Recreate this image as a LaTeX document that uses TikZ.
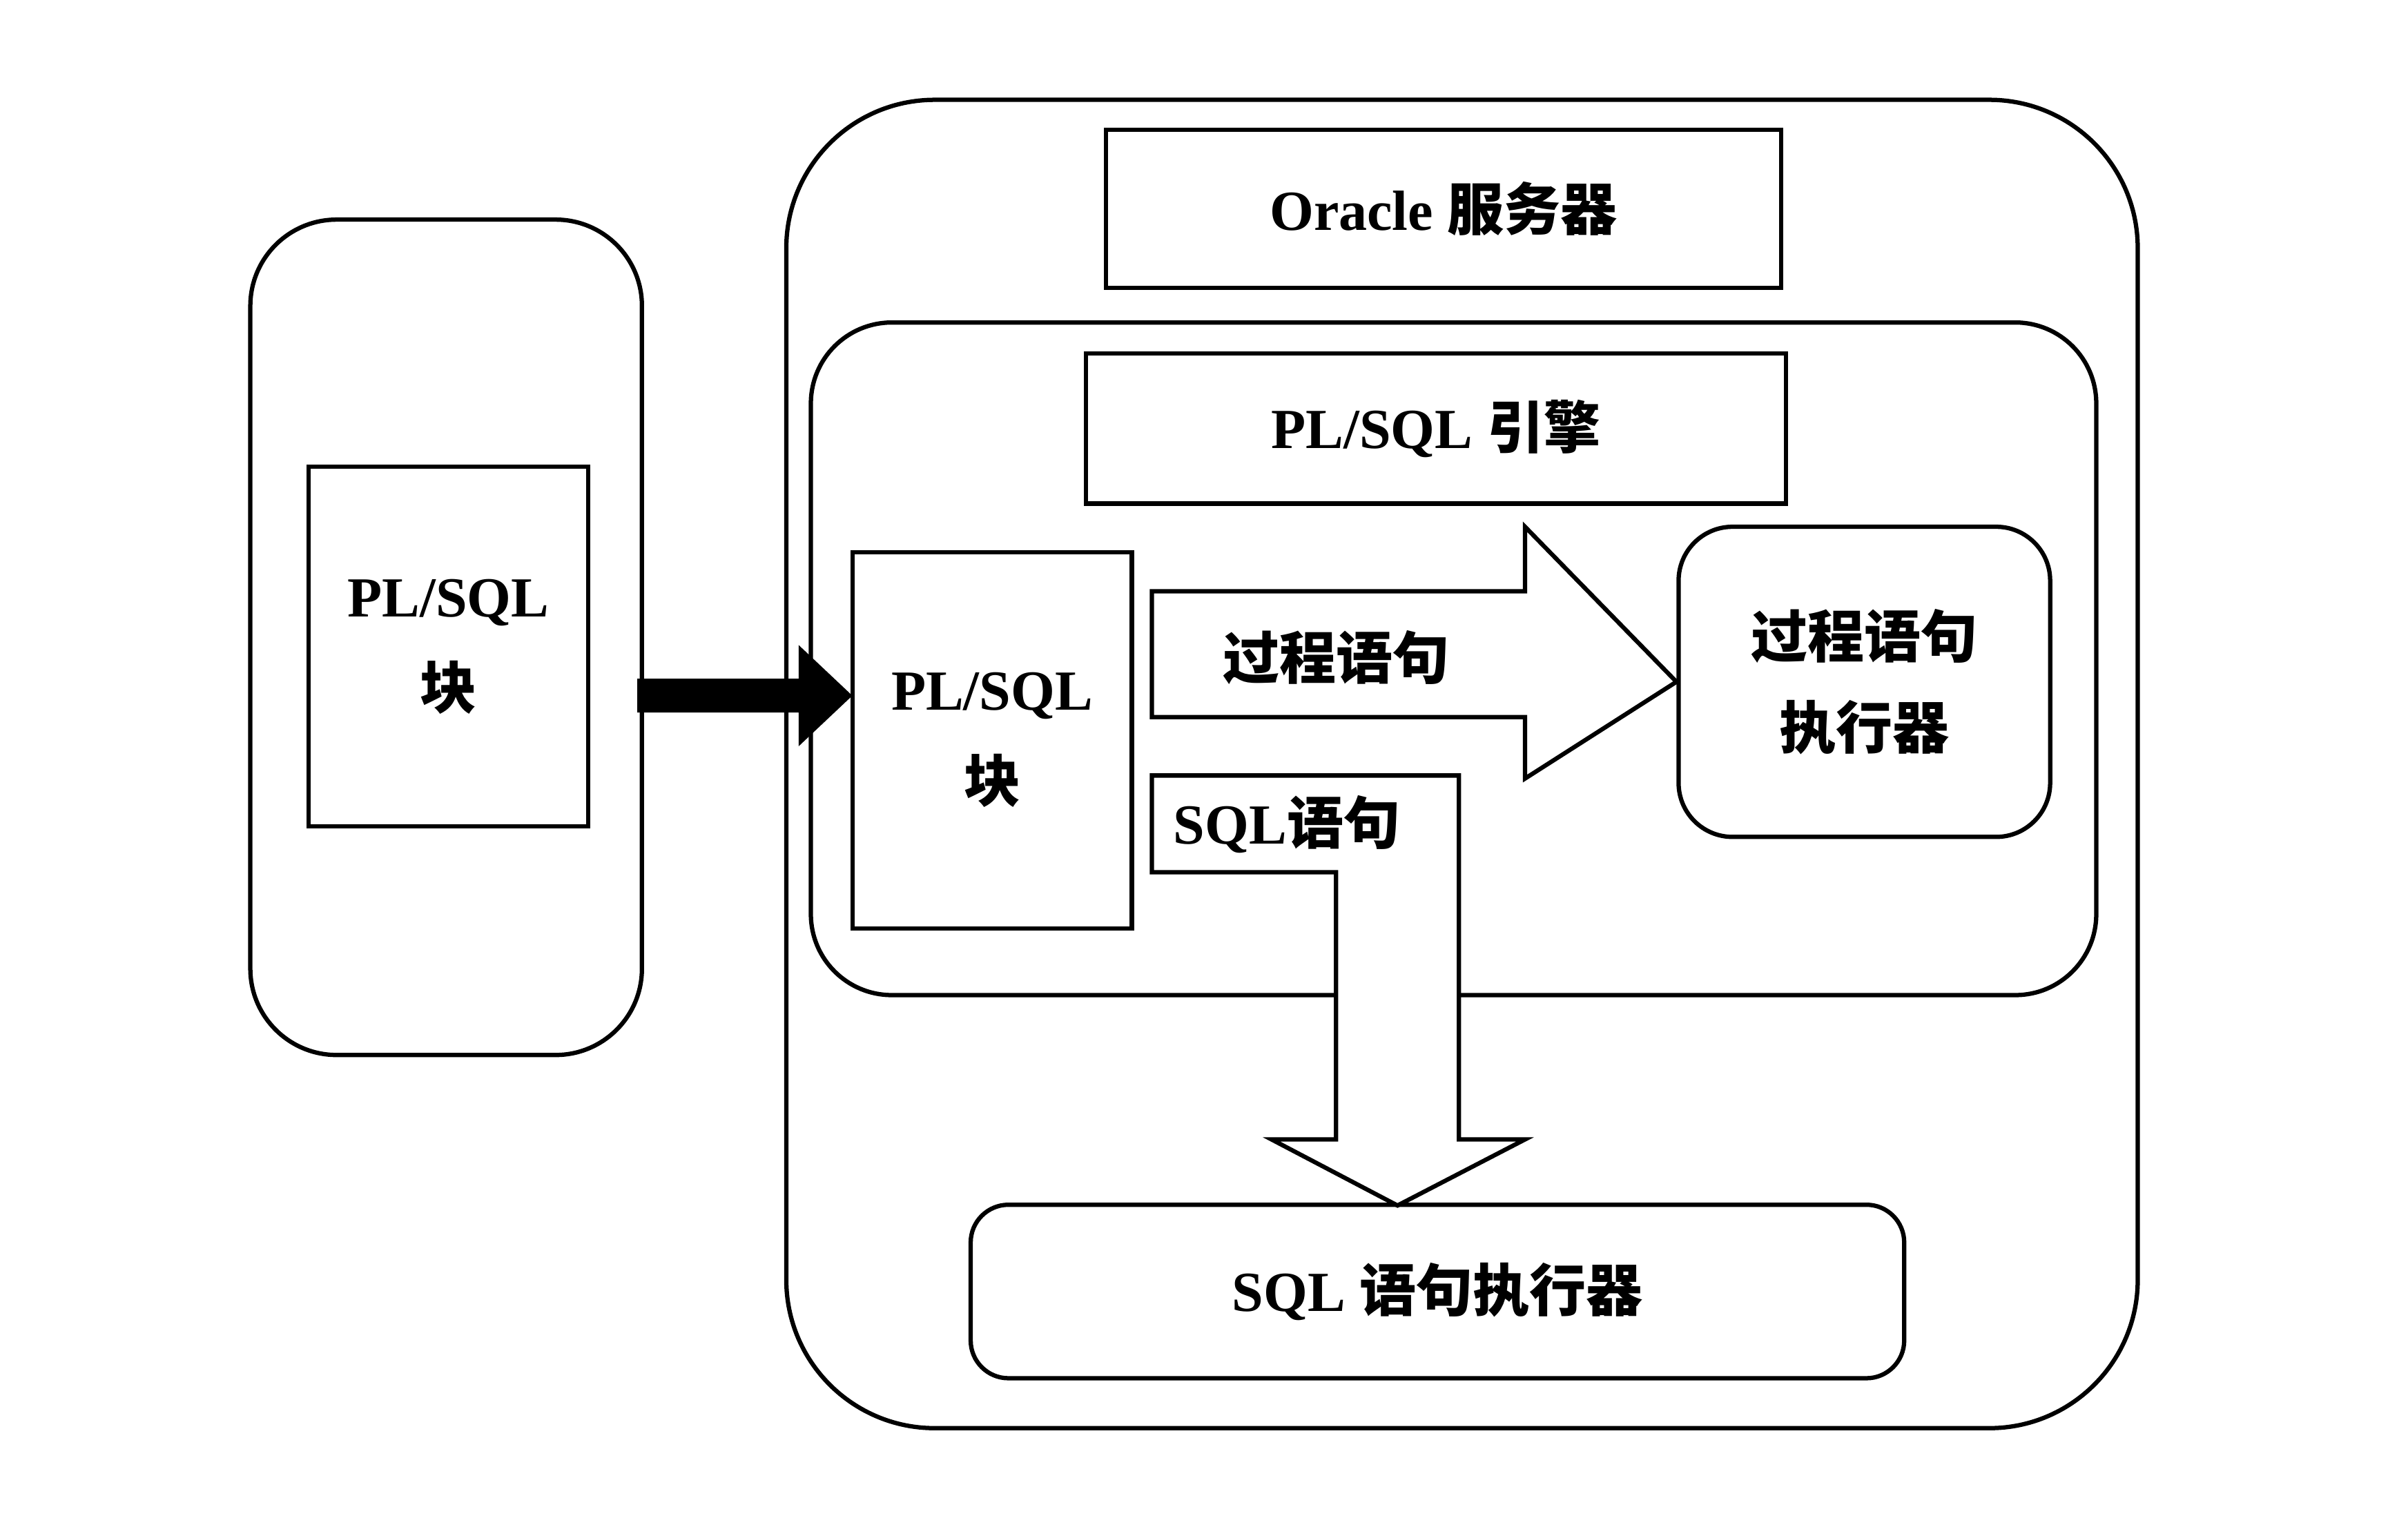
\documentclass[tikz,border=0pt]{standalone}
\usepackage{fontspec}
\setmainfont{Liberation Serif}
\newfontfamily\cjk{Noto Sans CJK SC}
\usetikzlibrary{positioning}
\begin{document}
\begin{tikzpicture}[x=0.02cm,y=-0.02cm,
     box/.style={draw,line width=1.6pt,rectangle},
     rbox/.style={draw,line width=1.6pt,rounded corners=20pt},
     lbl/.style={font=\fontsize{21}{30}\selectfont\bfseries,align=center}
     ]
   \useasboundingbox (0,0) rectangle (1568,1000);
   % client side
   \draw[rbox,rounded corners=32pt] (163,143) rectangle (418,687);
   \node[box,minimum width=3.64cm,minimum height=4.68cm] (cblk) at (292,421) {};
   \node[lbl] at (cblk) {PL/SQL\\[4pt]{\cjk 块}};
   % server side
   \draw[rbox,rounded corners=55pt] (512,65) rectangle (1392,930);
   \node[box,minimum width=8.8cm,minimum height=2.06cm] (ora) at (940,136) {};
   \node[lbl] at (ora) {Oracle {\cjk 服务器}};
   \draw[rbox,rounded corners=30pt] (528,210) rectangle (1365,648);
   \node[box,minimum width=9.12cm,minimum height=1.96cm] (eng) at (935,279) {};
   \node[lbl] at (eng) {PL/SQL {\cjk 引擎}};
   \node[box,minimum width=3.64cm,minimum height=4.9cm] (sblk) at (646,482) {};
   \node[lbl] at (sblk) {PL/SQL\\[4pt]{\cjk 块}};
   \node[rbox,minimum width=4.84cm,minimum height=4.04cm] (pexe) at (1214,444) {};
   \node[lbl] at (pexe) {{\cjk 过程语句}\\[4pt]{\cjk 执行器}};
   \node[rbox,rounded corners=14pt,minimum width=12.16cm,minimum height=2.26cm] (sexe) at (936,841) {};
   \node[lbl] at (sexe) {SQL {\cjk 语句执行器}};
   % block arrows
   \coordinate (intip) at (555,453);
   \coordinate (sqltip) at (910,785);
   \fill (415,442) -- (520,442) -- (520,420) -- (intip) -- (520,486) -- (520,464) -- (415,464) -- cycle;
   \draw[line width=1.6pt,fill=white] (750,385) -- (993,385) -- (993,343) -- (pexe.west)
      -- (993,507) -- (993,467) -- (750,467) -- cycle;
   \node[lbl,anchor=west] (proc) at (790,428) {\cjk 过程语句};
   \draw[line width=1.6pt,fill=white] (750,505) -- (950,505) -- (950,742) -- (993,742)
      -- (sqltip) -- (828,742) -- (870,742) -- (870,568) -- (750,568) -- cycle;
   \node[lbl,anchor=west] (sqls) at (758,537) {SQL{\cjk 语句}};
\end{tikzpicture}
\end{document}
